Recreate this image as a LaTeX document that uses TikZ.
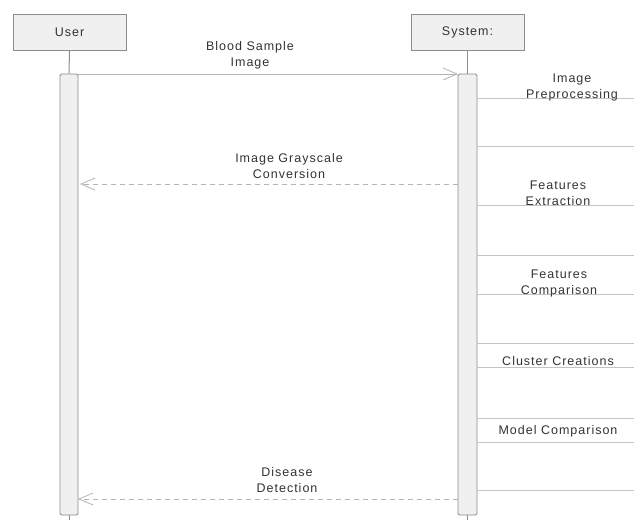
\documentclass[tikz,border=0pt]{standalone}
\usepackage{fontspec}
\setmainfont{Liberation Sans}[LetterSpace=8]
\usetikzlibrary{arrows.meta}
\definecolor{boxfill}{HTML}{F0F0F0}
\definecolor{boxdraw}{HTML}{8C8C8C}
\definecolor{msgline}{HTML}{B4B4B4}
\definecolor{txt}{HTML}{333333}
\tikzset{
  actor/.style={draw=boxdraw, fill=boxfill, line width=1pt, minimum width=113pt, minimum height=36pt, inner sep=0pt, text=txt, font=\fontsize{12.5}{14}\selectfont},
  actbar/.style={draw=boxdraw, fill=boxfill, line width=0.9pt, minimum width=18pt, minimum height=441pt, inner sep=0pt, rounded corners=1.5pt},
  life/.style={draw=boxdraw, line width=1pt},
  msg/.style={draw=msgline, line width=0.9pt, -{Straight Barb[length=14pt,width=12pt,line width=0.8pt]}},
  ret/.style={msg, dash pattern=on 5pt off 4pt},
  selfline/.style={draw=msgline!80, line width=0.9pt},
  lbl/.style={text=txt, align=center, font=\fontsize{12.5}{16}\selectfont, inner sep=0pt},
}
\begin{document}
\begin{tikzpicture}[x=1pt,y=-1pt]
\useasboundingbox (0,0) rectangle (634,520);
% actors
\node[actor] (user) at (69.5,32) {User};
\node[actor] (sys) at (467.5,32) {System:};
% activation bars
\node[actbar] (ubar) at (69,294.5) {};
\node[actbar, minimum width=19pt] (sbar) at (467.5,294.5) {};
% lifelines
\draw[life] (user.south) -- (ubar.north);
\draw[life] (sys.south) -- (sbar.north);
\coordinate (uend) at (69,520);
\coordinate (send) at (467.5,520);
\draw[life] (ubar.south) -- (uend);
\draw[life] (sbar.south) -- (send);
% message 1
\coordinate (m1s) at (78,74);
\coordinate (m1e) at (458,74);
\draw[msg] (m1s) -- (m1e);
\node[lbl] (l1) at (250,55) {Blood Sample\\Image};
% return 1
\coordinate (r1s) at (458,184);
\coordinate (r1e) at (80,184);
\draw[ret] (r1s) -- (r1e);
\node[lbl] (l2) at (289,166) {Image Grayscale\\Conversion};
% return 2
\coordinate (r2s) at (458,499);
\coordinate (r2e) at (78,499);
\draw[ret] (r2s) -- (r2e);
\node[lbl] (l3) at (287,480) {Disease\\Detection};
% self-message lines on the right
\foreach \y/\n in {98/a,146/b,205/c,255/d,294/e,343/f,367/g,418/h,442/i,490/j}{
  \coordinate (s\n) at (477,\y);
  \coordinate (t\n) at (634,\y);
  \draw[selfline] (s\n) -- (t\n);
}
\node[lbl] (p1) at (572,87) {Image\\Preprocessing};
\node[lbl] (p2) at (558,193) {Features\\Extraction};
\node[lbl] (p3) at (559,283) {Features\\Comparison};
\node[lbl] (p4) at (558,361) {Cluster Creations};
\node[lbl] (p5) at (558,431) {Model Comparison};
\end{tikzpicture}
\end{document}
